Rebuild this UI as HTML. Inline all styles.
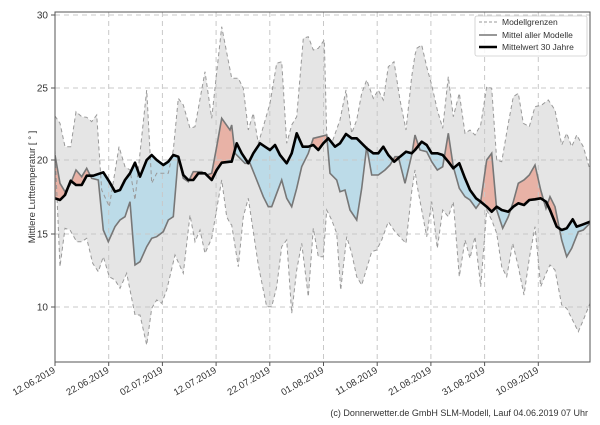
<!DOCTYPE html>
<html><head><meta charset="utf-8"><style>
body{margin:0;background:#fff;width:600px;height:420px;overflow:hidden;font-family:"Liberation Sans",sans-serif}
svg text{font-family:"Liberation Sans",sans-serif;fill:#333}
</style></head><body>
<svg id="s" width="600" height="420" xmlns="http://www.w3.org/2000/svg">
<defs>
<clipPath id="above"><path id="cA"/></clipPath>
<clipPath id="below"><path id="cB"/></clipPath>
<clipPath id="plot"><rect x="55" y="12" width="535" height="350"/></clipPath>
</defs>
<g clip-path="url(#plot)">
<path id="band" fill="#e5e5e5" stroke="none"/>
<path id="red" fill="#e8b2a6" clip-path="url(#above)"/>
<path id="blue" fill="#bcdbe8" clip-path="url(#below)"/>
<g id="grid" stroke="#c8c8c8" stroke-dasharray="5,4" stroke-width="1"></g>
<path id="up" fill="none" stroke="#999" stroke-width="1" stroke-dasharray="4,3"/>
<path id="lo" fill="none" stroke="#999" stroke-width="1" stroke-dasharray="4,3"/>
<path id="mean" fill="none" stroke="#777" stroke-width="1.6"/>
<path id="blk" fill="none" stroke="#000" stroke-width="2.6" stroke-linejoin="round"/>
</g>
<rect x="55" y="12" width="535" height="350" fill="none" stroke="#555" stroke-width="1"/>
<g id="ticks" font-size="10"></g>
<text transform="translate(35,187) rotate(-90)" text-anchor="middle" font-size="9.5">Mittlere Lufttemperatur [ ° ]</text>
<g>
<rect x="475" y="16" width="112" height="40" fill="#fff" fill-opacity="0.85" stroke="#ccc" stroke-width="0.8" rx="2"/>
<line x1="479" y1="22" x2="497" y2="22" stroke="#999" stroke-dasharray="3,2"/>
<line x1="479" y1="35" x2="497" y2="35" stroke="#777" stroke-width="1.6"/>
<line x1="479" y1="47" x2="497" y2="47" stroke="#000" stroke-width="2.6"/>
<text x="502" y="25" font-size="8.5">Modellgrenzen</text>
<text x="502" y="38" font-size="8.5">Mittel aller Modelle</text>
<text x="502" y="50" font-size="8.5">Mittelwert 30 Jahre</text>
</g>
<text x="588" y="416" text-anchor="end" font-size="9">(c) Donnerwetter.de GmbH SLM-Modell, Lauf 04.06.2019 07 Uhr</text>
</svg>
<script>
function conv(ox,oy,a){var r=[];for(var i=0;i<a.length;i+=2)r.push([ox+a[i]/3,oy+a[i+1]/3]);return r;}
function join(){var r=[];for(var k=0;k<arguments.length;k++)r=r.concat(arguments[k]);r.sort(function(a,b){return a[0]-b[0]});var o=[];r.forEach(function(p){if(!o.length||p[0]-o[o.length-1][0]>0.5)o.push(p)});return o;}
var up=join(conv(50,10,[15,318,30,340,45,410,62,410,78,305,95,320,110,322,125,335,140,315,155,540,178,590,207,410,225,470,240,480,255,570,290,240,305,520,320,490,355,490,370,420,385,265,400,285,420,355,435,350,465,185,485,325,515,50,545,205]),
conv(230,10,[10,205,25,205,40,235,55,360,70,310,85,400,100,350,120,280,140,160,155,155,170,400,185,345,200,320,220,85,235,80,250,120,265,115,283,90,290,375,305,400,330,330,348,240,365,370,380,330,395,250,410,210,430,265,445,240,460,270,475,170,492,155,510,270,528,360,545,200,560,115]),
conv(410,10,[15,135,35,105,50,170,65,225,82,300,98,355,115,200,130,320,148,250,165,370,180,360,195,375,212,345,230,230,245,235,260,450,275,455,295,340,310,260,325,250,340,340,358,350,375,290,395,285,415,270,435,300,455,405,470,370,485,410,500,375,520,410,540,480]));
var lo=join(conv(50,10,[15,420,30,770,45,655,60,660,80,695,95,695,110,685,128,760,145,785,160,740,178,800,195,810,210,835,230,790,255,915,270,915,290,1005,305,895,320,870,335,880,350,840,375,735,400,790,420,615,435,695,450,660,465,730,485,685,515,510,530,620,545,645]),
conv(230,10,[0,640,25,770,40,620,55,565,70,665,85,765,100,840,110,890,125,890,140,830,155,710,170,690,185,910,200,780,215,700,235,860,250,655,265,740,280,740,290,600,305,630,320,670,332,840,350,680,365,730,380,800,395,825,410,775,425,725,440,720,455,690,475,635,495,665,528,700,545,545,560,520]),
conv(410,10,[15,480,35,600,50,680,65,575,82,715,98,600,115,620,130,575,148,800,165,690,180,745,195,680,212,830,230,600,245,630,260,670,275,770,290,800,308,700,325,770,342,855,358,745,375,650,392,830,408,790,420,765,435,780,455,885,470,895,485,925,505,965,520,930,540,880]));
var mn=join(conv(50,10,[15,435,30,520,45,545,60,525,78,480,95,500,110,475,125,505,145,510,160,660,175,695,195,650,210,630,225,620,240,575,255,765,270,755,290,710,305,685,320,680,340,665,355,630,370,620,385,440,400,505,415,515,430,485,455,485,470,495,485,490,500,410,515,325,545,345]),
conv(230,10,[0,360,15,430,30,445,45,460,60,460,80,510,100,560,115,590,125,590,140,550,155,510,170,565,185,590,200,535,215,470,235,430,250,385,270,380,290,375,300,490,320,510,330,545,345,540,360,600,380,630,395,535,410,410,425,495,445,495,465,480,480,465,495,440,505,440,525,520,545,435,555,375]),
conv(410,10,[15,355,30,420,50,425,65,455,82,480,98,470,115,370,130,470,148,535,165,560,180,570,198,595,212,575,230,450,245,430,260,600,278,655,295,620,310,575,325,520,342,510,358,495,375,465,392,540,408,595,420,560,435,590,455,690,470,740,485,715,505,665,520,660,540,640]));
var bk=join(conv(50,10,[15,565,30,570,45,555,62,512,78,525,95,525,110,497,130,497,160,487,178,515,195,545,210,540,225,510,240,490,255,458,270,500,290,450,305,435,320,450,340,465,355,455,370,435,385,440,400,495,415,510,430,510,445,490,465,490,485,510,500,480,515,458,545,455]),
conv(230,10,[0,455,20,400,35,430,55,460,70,430,90,400,105,410,120,420,135,405,150,435,170,460,185,430,200,370,218,410,235,410,250,405,265,420,280,400,295,385,315,410,330,400,348,372,365,385,380,385,395,400,410,415,430,430,445,430,460,410,475,435,493,455,510,440,528,425,545,430,555,420]),
conv(410,10,[15,425,35,395,50,405,65,430,82,430,98,435,115,455,130,475,148,460,165,505,180,540,198,565,212,575,230,590,245,605,260,590,275,600,295,605,310,590,325,580,342,585,358,570,375,568,392,565,408,575,420,600,440,650,455,660,470,655,488,628,500,650,520,643,540,635]));
function pl(a){return a.map(function(p,i){return (i?'L':'M')+p[0].toFixed(1)+','+p[1].toFixed(1)}).join('');}
function rev(a){return a.slice().reverse();}
function $(i){return document.getElementById(i);}
$('up').setAttribute('d',pl(up));$('lo').setAttribute('d',pl(lo));
$('band').setAttribute('d',pl(up.concat(rev(lo)))+'Z');
$('mean').setAttribute('d',pl(mn));$('blk').setAttribute('d',pl(bk));
var area=pl(mn.concat(rev(bk)))+'Z';
$('red').setAttribute('d',area);$('blue').setAttribute('d',area);
$('cA').setAttribute('d',pl([[0,bk[0][1]]].concat(bk,[[600,bk[bk.length-1][1]],[600,0],[0,0]]))+'Z');
$('cB').setAttribute('d',pl([[0,bk[0][1]]].concat(bk,[[600,bk[bk.length-1][1]],[600,420],[0,420]]))+'Z');
var ns='http://www.w3.org/2000/svg',g=$('grid'),t=$('ticks');
function el(p,n,at,txt){var e=document.createElementNS(ns,n);for(var k in at)e.setAttribute(k,at[k]);if(txt)e.textContent=txt;p.appendChild(e);return e;}
var ys=[[15,30],[88,25],[160,20],[234,15],[307,10]];
ys.forEach(function(y){el(g,'line',{x1:55,x2:590,y1:y[0],y2:y[0]});el(t,'line',{x1:51,x2:55,y1:y[0],y2:y[0],stroke:'#555'});el(t,'text',{x:48,y:y[0]+3.5,'text-anchor':'end'},String(y[1]));});
var ds=['12.06.2019','22.06.2019','02.07.2019','12.07.2019','22.07.2019','01.08.2019','11.08.2019','21.08.2019','31.08.2019','10.09.2019'];
ds.forEach(function(d,i){var x=55+i*53.7;el(g,'line',{x1:x,x2:x,y1:12,y2:362});el(t,'line',{x1:x,x2:x,y1:362,y2:366,stroke:'#555'});el(t,'text',{transform:'translate('+(x+1)+',372) rotate(-30)','text-anchor':'end','font-size':'9.5'},d);});
</script>
</body></html>
